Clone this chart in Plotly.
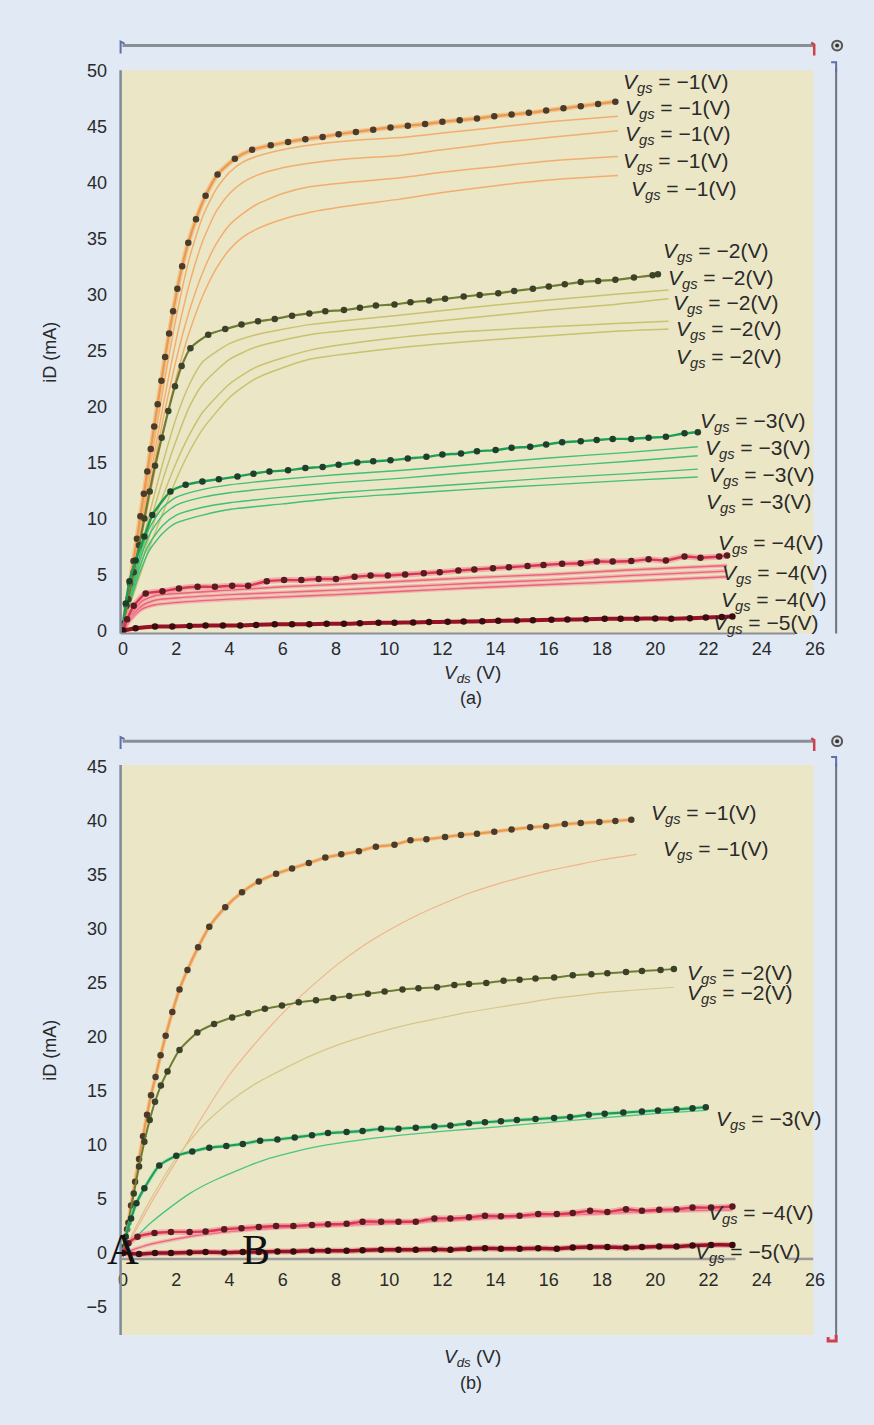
import plotly.graph_objects as go

W, H = 874, 1425
PAGE_BG = "#e0e9f4"
PLOT_BG = "#ebe6c6"

# ===================== Panel (a) data =====================
a_m1_dot_x = [0, 0.13, 0.26, 0.39, 0.52, 0.65, 0.78, 0.91, 1.04, 1.17, 1.3, 1.44, 1.58, 1.73, 1.88, 2.04, 2.22, 2.45, 2.74, 3.1, 3.55, 4.2, 4.85, 5.55, 6.2, 6.85, 7.5, 8.1, 8.75, 9.4, 10.05, 10.7, 11.35, 12.0, 12.65, 13.3, 13.95, 14.6, 15.25, 15.9, 16.55, 17.2, 17.85, 18.5]
a_m1_dot_y = [0.3, 2.2, 4.2, 6.2, 8.2, 10.2, 12.2, 14.2, 16.2, 18.2, 20.2, 22.3, 24.4, 26.5, 28.5, 30.5, 32.5, 34.6, 36.7, 38.8, 40.7, 42.1, 42.9, 43.3, 43.6, 43.85, 44.05, 44.3, 44.5, 44.7, 44.9, 45.05, 45.2, 45.4, 45.55, 45.7, 45.9, 46.05, 46.2, 46.4, 46.6, 46.8, 47.0, 47.2]

a_m1_thin_x = [0, 0.5, 1, 1.5, 2, 2.5, 3, 3.5, 4, 4.5, 5, 6, 7, 8.5, 10.4, 12, 14, 16, 18.6]
a_m1_thin1_y = [0, 7.2, 14.4, 21.5, 28, 33.3, 37, 39.4, 40.9, 41.8, 42.3, 42.9, 43.3, 43.7, 44.0, 44.4, 44.9, 45.4, 45.9]
a_m1_thin2_y = [0, 6.8, 13.5, 20, 26, 31, 34.8, 37.4, 39, 40, 40.6, 41.3, 41.7, 42.1, 42.4, 42.9, 43.5, 44.0, 44.6]
a_m1_thin3_y = [0, 6.4, 12.8, 18.8, 24.2, 28.6, 32, 34.5, 36.2, 37.2, 38, 39, 39.6, 40, 40.4, 40.9, 41.4, 41.9, 42.3]
a_m1_thin4_y = [0, 6, 12, 17.6, 22.6, 26.7, 29.9, 32.3, 34, 35.1, 35.8, 36.7, 37.3, 37.9, 38.5, 39.1, 39.7, 40.2, 40.6]

a_m2_dot_x = [0, 0.2, 0.4, 0.6, 0.8, 1.0, 1.2, 1.45, 1.7, 1.95, 2.2, 2.53, 3.2, 3.84, 4.45, 5.07, 5.7, 6.35, 7.0, 7.6, 8.3, 8.9, 9.5, 10.2, 10.8, 11.5, 12.1, 12.8, 13.4, 14.1, 14.7, 15.4, 16.0, 16.6, 17.2, 17.85, 18.5, 19.2, 19.9, 20.1]
a_m2_dot_y = [0.5, 2.8, 5.2, 7.6, 10.0, 12.4, 14.7, 17.2, 19.6, 21.8, 23.6, 25.2, 26.4, 26.9, 27.3, 27.6, 27.8, 28.1, 28.3, 28.5, 28.6, 28.8, 29.0, 29.1, 29.3, 29.45, 29.6, 29.8, 29.95, 30.1, 30.3, 30.5, 30.7, 30.9, 31.1, 31.2, 31.3, 31.5, 31.7, 31.8]

a_m2_thin_x = [0, 0.5, 1, 1.5, 2, 2.5, 3, 4, 5, 7, 10.2, 13, 16, 18.5, 20.5]
a_m2_thin1_y = [0.5, 5.5, 10.5, 15, 19, 22, 24, 25.6, 26.4, 27.3, 28.1, 28.8, 29.5, 30.0, 30.4]
a_m2_thin2_y = [0.5, 5, 9.5, 13.5, 17, 20, 22, 24.2, 25.3, 26.4, 27.2, 27.9, 28.6, 29.1, 29.6]
a_m2_thin3_y = [0.5, 4.5, 8.5, 12, 15, 17.5, 19.5, 22, 23.5, 25, 26.1, 26.7, 27.1, 27.4, 27.6]
a_m2_thin4_y = [0.5, 4, 7.5, 10.5, 13.5, 16, 18, 20.8, 22.5, 24.2, 25.2, 25.8, 26.3, 26.7, 26.9]

a_m3_dot_x = [0, 0.1, 0.24, 0.47, 0.8, 1.1, 1.78, 2.35, 2.98, 3.6, 4.3, 4.9, 5.5, 6.2, 6.85, 7.5, 8.1, 8.8, 9.4, 10.05, 10.7, 11.4, 12.0, 12.7, 13.3, 14.0, 14.6, 15.3, 15.9, 16.5, 17.2, 17.8, 18.4, 19.1, 19.75, 20.4, 21.1, 21.6]
a_m3_dot_y = [0.6, 2.4, 4.4, 6.25, 8.4, 10.3, 12.4, 13.0, 13.3, 13.5, 13.75, 14.0, 14.2, 14.3, 14.5, 14.6, 14.8, 15.0, 15.1, 15.2, 15.35, 15.5, 15.7, 15.8, 16.0, 16.1, 16.3, 16.4, 16.6, 16.8, 16.9, 17.0, 17.1, 17.1, 17.2, 17.3, 17.6, 17.7]

a_m3_thin_x = [0, 0.3, 0.6, 1.0, 1.5, 2, 3, 4, 6, 8, 10.5, 13, 16, 19, 21.6]
a_m3_thin1_y = [0.5, 3.5, 6.5, 9.2, 11.0, 11.9, 12.6, 13.0, 13.5, 13.9, 14.3, 14.8, 15.4, 15.9, 16.4]
a_m3_thin2_y = [0.5, 3.2, 6.0, 8.6, 10.3, 11.2, 11.9, 12.3, 12.8, 13.2, 13.6, 14.1, 14.6, 15.1, 15.6]
a_m3_thin3_y = [0.5, 3.0, 5.5, 7.8, 9.4, 10.3, 11.0, 11.4, 11.9, 12.3, 12.7, 13.1, 13.6, 14.0, 14.4]
a_m3_thin4_y = [0.5, 2.8, 5.0, 7.2, 8.7, 9.6, 10.3, 10.8, 11.3, 11.8, 12.2, 12.6, 13.0, 13.4, 13.7]

a_m4_dot_x = [0, 0.15, 0.4, 0.85, 1.48, 2.1, 2.8, 3.45, 4.1, 4.7, 5.4, 6.05, 6.7, 7.35, 8.0, 8.7, 9.3, 9.95, 10.6, 11.3, 11.9, 12.6, 13.2, 13.9, 14.5, 15.2, 15.8, 16.5, 17.2, 17.8, 18.4, 19.1, 19.75, 20.4, 21.1, 21.7, 22.4, 22.7]
a_m4_dot_y = [0, 1.0, 2.2, 3.3, 3.5, 3.75, 3.9, 3.9, 4.0, 4.0, 4.4, 4.5, 4.5, 4.6, 4.6, 4.8, 4.9, 4.9, 5.0, 5.1, 5.2, 5.35, 5.45, 5.55, 5.65, 5.75, 5.85, 5.95, 6.0, 6.15, 6.15, 6.2, 6.35, 6.25, 6.6, 6.5, 6.6, 6.7]

a_m4_thin_x = [0, 0.3, 0.7, 1.2, 2, 4, 6, 8, 10.5, 13, 16, 19, 22.7]
a_m4_thin1_y = [0, 1.4, 2.6, 3.1, 3.3, 3.6, 3.9, 4.1, 4.4, 4.7, 5.0, 5.4, 5.8]
a_m4_thin2_y = [0, 1.2, 2.2, 2.7, 2.9, 3.2, 3.4, 3.6, 3.9, 4.2, 4.5, 4.9, 5.3]
a_m4_thin3_y = [0, 1.0, 1.9, 2.3, 2.5, 2.8, 3.0, 3.2, 3.5, 3.8, 4.1, 4.4, 4.8]

a_m5_dot_x = [0, 0.47, 1.2, 1.85, 2.5, 3.1, 3.75, 4.4, 5.0, 5.7, 6.35, 7.0, 7.65, 8.3, 8.9, 9.6, 10.2, 10.9, 11.5, 12.2, 12.8, 13.5, 14.1, 14.8, 15.4, 16.1, 16.7, 17.4, 18.1, 18.7, 19.3, 20.0, 20.6, 21.3, 21.9, 22.5, 22.9]
a_m5_dot_y = [0, 0.2, 0.35, 0.35, 0.4, 0.45, 0.45, 0.45, 0.5, 0.55, 0.55, 0.55, 0.6, 0.6, 0.65, 0.7, 0.7, 0.72, 0.75, 0.78, 0.8, 0.83, 0.86, 0.9, 0.92, 0.95, 0.98, 1.0, 1.05, 1.05, 1.05, 1.08, 1.05, 1.1, 1.15, 1.2, 1.25]

a_label_x = [18.7, 18.8, 18.8, 18.7, 19.0, 20.2, 20.4, 20.6, 20.7, 20.7, 21.6, 21.8, 21.95, 21.85, 22.3, 22.45, 22.4, 22.1]
a_label_y = [48.9, 46.5, 44.2, 41.8, 39.3, 33.8, 31.4, 29.1, 26.8, 24.3, 18.6, 16.2, 13.8, 11.4, 7.7, 5.0, 2.6, 0.55]
a_label_vgs = [-1, -1, -1, -1, -1, -2, -2, -2, -2, -2, -3, -3, -3, -3, -4, -4, -4, -5]

# ===================== Panel (b) data =====================
b_m1_dot_x = [0, 0.15, 0.3, 0.45, 0.6, 0.75, 0.9, 1.05, 1.22, 1.41, 1.6, 1.85, 2.12, 2.42, 2.82, 3.24, 3.84, 4.47, 5.1, 5.75, 6.35, 6.98, 7.6, 8.2, 8.86, 9.5, 10.2, 10.8, 11.4, 12.1, 12.7, 13.3, 13.95, 14.6, 15.3, 15.9, 16.6, 17.2, 17.9, 18.5, 19.1]
b_m1_dot_y = [0, 2.2, 4.4, 6.6, 8.7, 10.8, 12.8, 14.6, 16.3, 18.3, 20.1, 22.3, 24.4, 26.2, 28.3, 30.2, 32.0, 33.4, 34.4, 35.1, 35.6, 36.1, 36.6, 36.9, 37.2, 37.6, 37.8, 38.2, 38.3, 38.5, 38.7, 38.8, 39.0, 39.2, 39.4, 39.5, 39.7, 39.8, 39.9, 40.0, 40.1]

b_m1_thin_x = [0, 0.5, 1, 1.5, 2, 3, 4, 5, 6, 7, 8, 9, 10, 11, 12, 13, 14, 15, 16, 17, 18, 19.3]
b_m1_thin_y = [0, 2.2, 4.4, 6.5, 8.5, 12.7, 16.5, 19.5, 22.2, 24.5, 26.6, 28.4, 29.9, 31.2, 32.3, 33.3, 34.1, 34.8, 35.4, 35.9, 36.4, 36.9]

b_m2_dot_x = [0, 0.2, 0.4, 0.6, 0.8, 1.0, 1.2, 1.42, 1.67, 2.12, 2.79, 3.42, 4.1, 4.7, 5.33, 5.97, 6.6, 7.25, 7.9, 8.5, 9.2, 9.83, 10.5, 11.1, 11.8, 12.45, 13.0, 13.65, 14.3, 14.9, 15.5, 16.2, 16.9, 17.6, 18.2, 18.9, 19.5, 20.2, 20.7]
b_m2_dot_y = [0, 2.8, 5.5, 8.0, 10.3, 12.3, 14.0, 15.5, 16.8, 18.8, 20.4, 21.2, 21.8, 22.2, 22.6, 22.9, 23.2, 23.4, 23.6, 23.8, 24.0, 24.2, 24.4, 24.5, 24.6, 24.8, 24.9, 25.0, 25.2, 25.3, 25.4, 25.5, 25.7, 25.8, 25.9, 26.0, 26.1, 26.2, 26.3]

b_m2_thin_x = [0, 0.5, 1, 1.5, 2, 3, 4, 5, 6, 7, 8, 9, 10, 11, 12, 13, 14, 15, 16, 17, 18, 19, 20.7]
b_m2_thin_y = [0, 2.5, 4.8, 6.9, 8.8, 11.8, 14.0, 15.7, 17.0, 18.2, 19.2, 20.0, 20.7, 21.3, 21.8, 22.3, 22.7, 23.1, 23.5, 23.8, 24.1, 24.3, 24.6]

b_m3_dot_x = [0, 0.1, 0.3, 0.5, 0.8, 1.36, 2.0, 2.6, 3.24, 3.88, 4.5, 5.15, 5.8, 6.45, 7.1, 7.7, 8.4, 9.0, 9.7, 10.35, 11.0, 11.7, 12.3, 13.0, 13.6, 14.2, 14.8, 15.5, 16.2, 16.8, 17.5, 18.1, 18.8, 19.5, 20.1, 20.8, 21.4, 21.9]
b_m3_dot_y = [0.5, 1.5, 3.2, 4.6, 6.0, 8.1, 9.0, 9.4, 9.75, 9.9, 10.1, 10.4, 10.5, 10.7, 10.9, 11.1, 11.2, 11.3, 11.5, 11.5, 11.6, 11.7, 11.8, 12.0, 12.1, 12.2, 12.3, 12.4, 12.5, 12.6, 12.8, 12.9, 13.0, 13.1, 13.2, 13.3, 13.4, 13.5]

b_m3_thin_x = [0, 0.5, 1.0, 1.6, 2.5, 3.5, 5.3, 7.2, 9.7, 12.2, 14.2, 16, 18, 20, 21.9]
b_m3_thin_y = [0.3, 1.5, 2.7, 3.9, 5.5, 6.8, 8.6, 9.8, 10.7, 11.3, 11.7, 12.1, 12.5, 12.9, 13.2]

b_m4_dot_x = [0, 0.2, 0.54, 1.18, 1.8, 2.5, 3.1, 3.8, 4.45, 5.1, 5.75, 6.4, 7.1, 7.7, 8.4, 9.0, 9.7, 10.35, 11.0, 11.7, 12.3, 13.0, 13.6, 14.2, 14.9, 15.6, 16.3, 16.9, 17.55, 18.2, 18.9, 19.5, 20.15, 20.8, 21.4, 22.1, 22.9]
b_m4_dot_y = [0, 0.9, 1.5, 1.85, 1.95, 1.95, 2.0, 2.2, 2.3, 2.4, 2.5, 2.5, 2.6, 2.65, 2.7, 2.9, 2.9, 2.9, 2.9, 3.2, 3.2, 3.3, 3.45, 3.4, 3.45, 3.6, 3.6, 3.7, 3.9, 3.8, 4.05, 3.9, 4.0, 4.05, 4.2, 4.2, 4.3]

b_m4_thin_x = [0, 1, 2, 3, 4.5, 6, 8, 10, 12, 14, 16, 18, 20, 22.9]
b_m4_thin_y = [0, 0.8, 1.3, 1.7, 2.1, 2.35, 2.55, 2.75, 3.0, 3.25, 3.45, 3.65, 3.85, 4.0]

b_m5_dot_x = [0, 0.6, 1.2, 1.8, 2.5, 3.1, 3.8, 4.5, 5.1, 5.8, 6.4, 7.1, 7.7, 8.4, 9.0, 9.7, 10.35, 11.0, 11.7, 12.3, 13.0, 13.6, 14.2, 14.9, 15.6, 16.3, 16.9, 17.55, 18.2, 18.9, 19.5, 20.15, 20.8, 21.4, 22.1, 22.9]
b_m5_dot_y = [0, -0.1, 0.0, 0.0, 0.05, 0.1, 0.05, 0.1, 0.1, 0.15, 0.15, 0.2, 0.2, 0.2, 0.25, 0.3, 0.3, 0.3, 0.35, 0.3, 0.4, 0.45, 0.4, 0.4, 0.45, 0.4, 0.5, 0.55, 0.55, 0.5, 0.55, 0.6, 0.6, 0.7, 0.75, 0.75]

b_label_x = [19.75, 20.2, 21.1, 21.1, 22.2, 21.9, 21.4]
b_label_y = [40.6, 37.3, 25.8, 24.0, 12.3, 3.6, 0.0]
b_label_vgs = [-1, -1, -2, -2, -3, -4, -5]

x_ticks = list(range(0, 27, 2))
a_y_ticks = list(range(0, 51, 5))
b_y_ticks = list(range(-5, 46, 5))

# ===================== styles =====================
C1_LINE, C1_THIN, C1_MK = "#e99a4c", "#f3ae6e", "#4b3b2a"
C2_LINE, C2_THIN, C2_MK = "#6f7d34", "#c9c26e", "#3b4228"
C3_LINE, C3_THIN, C3_MK = "#1c9f55", "#42bf78", "#1f3f2b"
C4_LINE, C4_THIN, C4_MK = "#dc3550", "#ee6478", "#5a1a22"
C5_LINE, C5_MK = "#941224", "#3a0c10"


def px(x):
    return x / W


def py(y):
    return 1 - y / H


# pixel geometry of both panels
X_L, X_R, X_YEL_R = 118, 830, 813
X0_PX, XPU = 120.5, 26.7
A_TOP, A_BOT, A_ZERO, A_50 = 61, 631, 628, 61
A_PU = (A_ZERO - A_50) / 50.0
B_TOP, B_BOT, B_ZERO, B_45 = 764, 1341, 1258, 766
B_PU = (B_ZERO - B_45) / 45.0
B_XLINE = B_ZERO + 6
A_BAR, B_BAR = 36, 740

x_range = [(X_L - X0_PX) / XPU, (X_R - X0_PX) / XPU]
a_range = [(A_ZERO - A_BOT) / A_PU, (A_ZERO - A_TOP) / A_PU]
b_range = [(B_ZERO - B_BOT) / B_PU, (B_ZERO - B_TOP) / B_PU]

fig = go.Figure()


def add_line(x, y, color, width, xa, ya, opacity=1.0):
    fig.add_trace(go.Scatter(x=x, y=y, mode="lines", xaxis=xa, yaxis=ya,
                             line=dict(color=color, width=width, shape="spline", smoothing=0.6),
                             opacity=opacity, hoverinfo="skip", showlegend=False))


def add_dotted(x, y, lcolor, lwidth, mcolor, msize, xa, ya):
    fig.add_trace(go.Scatter(x=x, y=y, mode="lines+markers", xaxis=xa, yaxis=ya,
                             line=dict(color=lcolor, width=lwidth, shape="spline", smoothing=0.6),
                             marker=dict(color=mcolor, size=msize),
                             hoverinfo="skip", showlegend=False))


# ---- panel (a) traces ----
for yy in [a_m1_thin4_y, a_m1_thin3_y, a_m1_thin2_y, a_m1_thin1_y]:
    add_line(a_m1_thin_x, yy, C1_THIN, 1.5, "x", "y")
for yy in [a_m2_thin4_y, a_m2_thin3_y, a_m2_thin2_y, a_m2_thin1_y]:
    add_line(a_m2_thin_x, yy, C2_THIN, 1.5, "x", "y")
for yy in [a_m3_thin4_y, a_m3_thin3_y, a_m3_thin2_y, a_m3_thin1_y]:
    add_line(a_m3_thin_x, yy, C3_THIN, 1.4, "x", "y")
for yy in [a_m4_thin3_y, a_m4_thin2_y, a_m4_thin1_y]:
    add_line(a_m4_thin_x, yy, "#f29aa6", 4, "x", "y", 0.6)
    add_line(a_m4_thin_x, yy, C4_THIN, 1.4, "x", "y")
add_line(a_m1_dot_x, a_m1_dot_y, "#f4b77c", 5, "x", "y", 0.7)
add_dotted(a_m1_dot_x, a_m1_dot_y, C1_LINE, 2.2, C1_MK, 6.5, "x", "y")
add_dotted(a_m2_dot_x, a_m2_dot_y, C2_LINE, 2.2, C2_MK, 6.5, "x", "y")
add_dotted(a_m3_dot_x, a_m3_dot_y, C3_LINE, 2.4, C3_MK, 6.5, "x", "y")
add_line(a_m4_dot_x, a_m4_dot_y, "#f08a98", 6, "x", "y", 0.6)
add_dotted(a_m4_dot_x, a_m4_dot_y, C4_LINE, 2.4, C4_MK, 6.5, "x", "y")
add_dotted(a_m5_dot_x, a_m5_dot_y, C5_LINE, 4, C5_MK, 6.5, "x", "y")

# ---- panel (b) traces ----
add_line(b_m1_thin_x, b_m1_thin_y, "#f2b48c", 1.2, "x2", "y2")
add_line(b_m2_thin_x, b_m2_thin_y, "#d6c78a", 1.2, "x2", "y2")
add_line(b_m3_thin_x, b_m3_thin_y, "#4cc485", 1.3, "x2", "y2")
add_line(b_m4_thin_x, b_m4_thin_y, "#f29aa6", 4, "x2", "y2", 0.6)
add_line(b_m4_thin_x, b_m4_thin_y, C4_THIN, 1.3, "x2", "y2")
add_line(b_m1_dot_x, b_m1_dot_y, "#f4b77c", 4, "x2", "y2", 0.7)
add_dotted(b_m1_dot_x, b_m1_dot_y, C1_LINE, 2.0, C1_MK, 6.5, "x2", "y2")
add_dotted(b_m2_dot_x, b_m2_dot_y, C2_LINE, 2.0, C2_MK, 6.5, "x2", "y2")
add_line(b_m3_dot_x, b_m3_dot_y, "#8fdcae", 4, "x2", "y2", 0.6)
add_dotted(b_m3_dot_x, b_m3_dot_y, C3_LINE, 2.2, C3_MK, 6.5, "x2", "y2")
add_line(b_m4_dot_x, b_m4_dot_y, "#f08a98", 6, "x2", "y2", 0.6)
add_dotted(b_m4_dot_x, b_m4_dot_y, C4_LINE, 2.4, C4_MK, 6.5, "x2", "y2")
add_line(b_m5_dot_x, b_m5_dot_y, "#e07080", 6, "x2", "y2", 0.5)
add_dotted(b_m5_dot_x, b_m5_dot_y, C5_LINE, 3.5, C5_MK, 6.5, "x2", "y2")

FONT = "Liberation Sans, Arial, sans-serif"
TXT = "#2a2a2a"
LABEL_SIZE = 21


def vgs_text(v):
    return "<i>V</i><sub><i>gs</i></sub> = \u2212%d(V)" % abs(v)


annotations = []
for x, y, v in zip(a_label_x, a_label_y, a_label_vgs):
    annotations.append(dict(x=x, y=y, xref="x", yref="y", text=vgs_text(v), showarrow=False,
                            xanchor="left", yanchor="middle", font=dict(family=FONT, size=LABEL_SIZE, color=TXT)))
for x, y, v in zip(b_label_x, b_label_y, b_label_vgs):
    annotations.append(dict(x=x, y=y, xref="x2", yref="y2", text=vgs_text(v), showarrow=False,
                            xanchor="left", yanchor="middle", font=dict(family=FONT, size=LABEL_SIZE, color=TXT)))

# axis titles and captions
for ycen, vds_y, cap, cap_y in [((A_TOP + A_BOT) / 2, 672, "(a)", 696), ((B_TOP + B_BOT) / 2, 1364, "(b)", 1390)]:
    annotations.append(dict(x=px(47), y=py(ycen), xref="paper", yref="paper", text="iD (mA)",
                            textangle=-90, showarrow=False, xanchor="center", yanchor="middle",
                            font=dict(family=FONT, size=18, color=TXT)))
    annotations.append(dict(x=px(471), y=py(vds_y), xref="paper", yref="paper",
                            text="<i>V</i><sub><i>ds</i></sub> (V)", showarrow=False,
                            xanchor="center", yanchor="middle", font=dict(family=FONT, size=19, color=TXT)))
    annotations.append(dict(x=px(470), y=py(cap_y), xref="paper", yref="paper", text=cap, showarrow=False,
                            xanchor="center", yanchor="middle", font=dict(family=FONT, size=18, color=TXT)))

# big serif A / B markers in panel (b)
annotations.append(dict(x=-0.02, y=0.3, xref="x2", yref="y2", text="A", showarrow=False,
                        xanchor="center", yanchor="middle",
                        font=dict(family="Liberation Serif, Times New Roman, serif", size=44, color="#111")))
annotations.append(dict(x=5.0, y=0.3, xref="x2", yref="y2", text="B", showarrow=False,
                        xanchor="center", yanchor="middle",
                        font=dict(family="Liberation Serif, Times New Roman, serif", size=42, color="#111")))

shapes = []


def rect(x0, y0, x1, y1, color):
    shapes.append(dict(type="rect", xref="paper", yref="paper", x0=px(x0), x1=px(x1), y0=py(y1), y1=py(y0),
                       fillcolor=color, line=dict(width=0), layer="below"))


def seg(x0, y0, x1, y1, color, width, layer="above"):
    shapes.append(dict(type="line", xref="paper", yref="paper", x0=px(x0), x1=px(x1), y0=py(y0), y1=py(y1),
                       line=dict(color=color, width=width), layer=layer))


def path(points, color, width):
    d = "M " + " L ".join("%f,%f" % (px(a), py(b)) for a, b in points)
    shapes.append(dict(type="path", xref="paper", yref="paper", path=d, line=dict(color=color, width=width)))


def circle_icon(cx, cy):
    shapes.append(dict(type="circle", xref="paper", yref="paper", x0=px(cx - 5), x1=px(cx + 5),
                       y0=py(cy + 5), y1=py(cy - 5), line=dict(color="#555", width=2), fillcolor="#d8dde4"))
    shapes.append(dict(type="circle", xref="paper", yref="paper", x0=px(cx - 2), x1=px(cx + 2),
                       y0=py(cy + 2), y1=py(cy - 2), line=dict(width=0), fillcolor="#333"))


for (top, bot, bar_y, bottom_hook) in [(A_TOP, A_BOT, A_BAR, False), (B_TOP, B_BOT, B_BAR, True)]:
    rect(X_L, top, X_YEL_R, bot, PLOT_BG)
    seg(X_L, top, X_L, bot, "#7f8a9a", 2.5)
    seg(X_L + 2, bar_y, X_YEL_R, bar_y, "#8a8f96", 3)
    path([(X_L + 4, bar_y - 2), (X_L, bar_y - 4), (X_L, bar_y + 8)], "#5f6fa8", 2)
    path([(X_YEL_R - 2, bar_y - 3), (X_YEL_R + 1, bar_y - 1), (X_YEL_R + 1, bar_y + 10)], "#d0404a", 2.5)
    circle_icon(837, bar_y)
    seg(836, top - 2, 836, bot + (4 if bottom_hook else 0), "#6f757d", 2)
    path([(831, top - 8), (836, top - 8), (836, top + 2)], "#5f6fa8", 2)
    if bottom_hook:
        path([(836, bot), (836, bot + 6), (828, bot + 6), (828, bot + 2)], "#d0404a", 3)

# x axis lines
seg(X_L, A_BOT, 795, A_BOT, "#8c9098", 2)
seg(X_L, B_XLINE, 735, B_XLINE, "#9a9a9a", 2.5)
seg(787, B_XLINE, 813, B_XLINE, "#9a9a9a", 2.5)

axis_font = dict(family=FONT, size=18, color=TXT)
common_x = dict(range=x_range, tickmode="array", tickvals=x_ticks, ticktext=[str(t) for t in x_ticks],
                showgrid=False, zeroline=False, showline=False, ticks="outside", ticklen=2,
                tickcolor="rgba(0,0,0,0)", tickfont=axis_font, domain=[px(X_L), px(X_R)])
common_y = dict(showgrid=False, zeroline=False, showline=False, ticks="outside", ticklen=9,
                tickcolor="rgba(0,0,0,0)", tickfont=axis_font, tickmode="array")

fig.update_layout(
    width=W, height=H, autosize=False,
    margin=dict(l=0, r=0, t=0, b=0),
    paper_bgcolor=PAGE_BG, plot_bgcolor="rgba(0,0,0,0)",
    showlegend=False,
    xaxis=dict(common_x, anchor="free", position=py(A_BOT - 3)),
    yaxis=dict(common_y, range=a_range, tickvals=a_y_ticks, ticktext=[str(t) for t in a_y_ticks],
               domain=[py(A_BOT), py(A_TOP)], anchor="x"),
    xaxis2=dict(common_x, anchor="free", position=py(B_XLINE), ticklen=4),
    yaxis2=dict(common_y, range=b_range, tickvals=b_y_ticks,
                ticktext=[("\u2212%d" % -t) if t < 0 else str(t) for t in b_y_ticks],
                domain=[py(B_BOT), py(B_TOP)], anchor="x2"),
    annotations=annotations,
    shapes=shapes,
)

fig.write_html("out.html")
